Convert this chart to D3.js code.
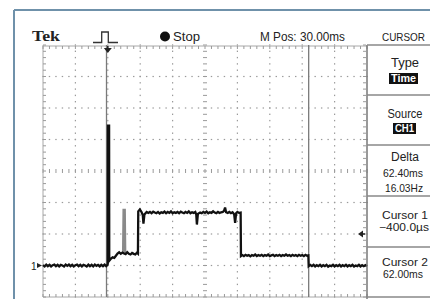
<!DOCTYPE html>
<html><head><meta charset="utf-8">
<script src="https://cdn.jsdelivr.net/npm/d3@7"></script>
<style>
html,body{margin:0;padding:0;background:#fff;}
svg{display:block;}
text{font-family:'Liberation Sans Narrow','Liberation Sans',Arial,sans-serif;fill:#222;}
</style></head>
<body>
<script>
// ---- data (time in ms, amplitude in divisions above CH1 ground) ----
const preTrigger = [[-20,0.01],[-19.5,-0.03],[-19,0.03],[-18.5,-0.02],[-18,0.02],[-17.5,-0.03],[-17,0.01],[-16.5,0.03],[-16,-0.02],[-15.5,0.02],[-15,-0.03],[-14.5,0.02],[-14,0.0],[-13.5,-0.03],[-13,0.03],[-12.5,-0.01],[-12,0.03],[-11.5,-0.02],[-11,0.02],[-10.5,-0.03],[-10,0.01],[-9.5,0.03],[-9,-0.02],[-8.5,0.02],[-8,-0.03],[-7.5,0.02],[-7,0.0],[-6.5,-0.03],[-6,0.03],[-5.5,-0.02],[-5,0.02],[-4.5,-0.03],[-4,0.03],[-3.5,-0.01],[-3,0.02],[-2.5,-0.03],[-2,0.02],[-1.5,-0.02],[-1,0.03],[-0.5,-0.02],[-0.1,0.02]];
const triggerSpike = [[0,0.05],[0.05,4.44],[0.4,4.44],[0.45,0.15]];
const lowStep = [[1,0.22],[1.5,0.26],[2,0.24],[2.5,0.31],[3,0.38],[3.5,0.42],[4,0.37],[4.5,0.41],[5,0.38],[5.5,0.36],[6,0.42],[6.5,0.37],[7,0.35],[7.5,0.4],[8,0.37],[8.5,0.35],[9,0.41],[9.3,0.38]];
const highPulse = [[9.4,1.72],[9.9,1.78],[10.4,1.7],[10.8,1.6],[11.0,1.33],[11.3,1.62],[12,1.7],[12.5,1.67],[13,1.7],[13.5,1.66],[14,1.71],[14.5,1.68],[15,1.66],[15.5,1.7],[16,1.65],[16.5,1.69],[17,1.67],[17.5,1.71],[18,1.66],[18.5,1.7],[19,1.67],[19.5,1.72],[20,1.66],[20.5,1.69],[21,1.67],[21.5,1.7],[22,1.66],[22.5,1.71],[23,1.68],[23.5,1.66],[24,1.7],[24.5,1.67],[25,1.72],[25.5,1.66],[26,1.69],[26.5,1.67],[27,1.7],[27.3,1.62],[27.5,1.3],[27.8,1.64],[28.5,1.68],[29,1.66],[29.5,1.7],[30,1.67],[30.5,1.71],[31,1.66],[31.5,1.69],[32,1.67],[32.5,1.72],[33,1.68],[33.5,1.66],[34,1.7],[34.5,1.67],[35,1.69],[35.5,1.7],[35.9,1.74],[36.2,1.84],[36.5,1.69],[37,1.67],[37.5,1.7],[38,1.66],[38.5,1.69],[39.0,1.63],[39.3,1.35],[39.6,1.66],[40,1.7],[40.5,1.67],[41,1.68]];
const midStep = [[41.1,0.3],[41.5,0.33],[42,0.3],[42.5,0.34],[43,0.31],[43.5,0.33],[44,0.29],[44.5,0.33],[45,0.31],[45.5,0.35],[46,0.3],[46.5,0.33],[47,0.31],[47.5,0.34],[48,0.3],[48.5,0.33],[49,0.31],[49.5,0.35],[50,0.3],[50.5,0.32],[51,0.34],[51.5,0.3],[52,0.33],[52.5,0.31],[53,0.34],[53.5,0.3],[54,0.33],[54.5,0.31],[55,0.35],[55.5,0.31],[56,0.33],[56.5,0.3],[57,0.34],[57.5,0.31],[58,0.33],[58.5,0.3],[59,0.34],[59.5,0.31],[60,0.33],[60.5,0.3],[61,0.34],[61.5,0.31],[61.9,0.32]];
const postPulse = [[62.0,-0.02],[62.5,0.02],[63,-0.02],[63.5,0.02],[64,-0.03],[64.5,0.01],[65,-0.02],[65.5,0.02],[66,-0.03],[66.5,0.01],[67,-0.02],[67.5,0.02],[68,-0.04],[68.5,0.0],[69,-0.02],[69.5,0.02],[70,-0.03],[70.5,0.01],[71,-0.02],[71.5,0.02],[72,-0.03],[72.5,0.01],[73,-0.02],[73.5,0.02],[74,-0.03],[74.5,0.01],[75,-0.02],[75.5,0.02],[76,-0.03],[76.5,0.0],[77,-0.02],[77.5,0.02],[78,-0.03],[78.5,0.01],[79,-0.02],[79.5,0.01],[80,-0.02]];
const glitch = [[4.6,0.4],[4.75,1.78],[5.35,1.78],[5.5,0.4]];
const cursorTimes = [-0.4, 62.0];
const triggerLevel = 1.0;
const headerTexts = ["Tek","Stop","M Pos: 30.00ms","CURSOR"];
const menuTitles = ["Type","Source","Delta","Cursor 1","Cursor 2"];
const menuValues = [["Time"],["CH1"],["62.40ms","16.03Hz"],["\u2212400.0\u00b5s"],["62.00ms"]];

// ---- layout ----
const W=430,H=299;
const svg=d3.select("body").append("svg").attr("width",W).attr("height",H);
const x=d3.scaleLinear().domain([-20,80]).range([43,367]);
const y=d3.scaleLinear().domain([-1,7]).range([297,45]);

// outer frame
svg.append("line").attr("x1",14).attr("x2",W).attr("y1",10).attr("y2",10).attr("stroke","#6f91aa").attr("stroke-width",2);
svg.append("line").attr("x1",14).attr("x2",14).attr("y1",10).attr("y2",H).attr("stroke","#6f91aa").attr("stroke-width",2);

const g=svg.append("g");
const gridCol="#9a9a9a";
const majT=d3.range(-10,80,10), majV=d3.range(0,7,1);
const minT=d3.range(-20,80.01,2), minV=d3.range(-1,7.01,0.2);
// dotted grid
majT.forEach(t=>{ if(t===30) return; minV.forEach(v=>{ g.append("rect").attr("x",x(t)-0.6).attr("y",y(v)-0.7).attr("width",1.2).attr("height",1.4).attr("fill",gridCol);});});
majV.forEach(v=>{ if(v===3) return; minT.forEach(t=>{ g.append("rect").attr("x",x(t)-0.7).attr("y",y(v)-0.6).attr("width",1.4).attr("height",1.2).attr("fill",gridCol);});});
// centre lines with ticks
minV.forEach(v=>{ g.append("line").attr("x1",x(30)-2).attr("x2",x(30)+2).attr("y1",y(v)).attr("y2",y(v)).attr("stroke",gridCol).attr("stroke-width",1);});
minT.forEach(t=>{ g.append("line").attr("x1",x(t)).attr("x2",x(t)).attr("y1",y(3)-2).attr("y2",y(3)+2).attr("stroke",gridCol).attr("stroke-width",1);});
// edge rulers
const edge="#a8a8a8";
g.append("line").attr("x1",x(-20)).attr("x2",x(80)).attr("y1",y(7)+1).attr("y2",y(7)+1).attr("stroke",edge);
g.append("line").attr("x1",x(-20)).attr("x2",x(80)).attr("y1",y(-1)).attr("y2",y(-1)).attr("stroke",edge);
g.append("line").attr("x1",x(-20)).attr("x2",x(-20)).attr("y1",y(7)).attr("y2",y(-1)).attr("stroke",edge);
minT.forEach(t=>{
  g.append("line").attr("x1",x(t)).attr("x2",x(t)).attr("y1",y(7)+1).attr("y2",y(7)+4).attr("stroke",gridCol);
  g.append("line").attr("x1",x(t)).attr("x2",x(t)).attr("y1",y(-1)).attr("y2",y(-1)-3).attr("stroke",gridCol);
});
minV.forEach(v=>{
  g.append("line").attr("x1",x(-20)).attr("x2",x(-20)+3).attr("y1",y(v)).attr("y2",y(v)).attr("stroke",gridCol);
  g.append("line").attr("x1",x(80)-4).attr("x2",x(80)-1).attr("y1",y(v)).attr("y2",y(v)).attr("stroke",gridCol);
});

// cursors
cursorTimes.forEach(t=>{ g.append("line").attr("x1",x(t)).attr("x2",x(t)).attr("y1",y(7)).attr("y2",y(-1)).attr("stroke","#7a7a7a").attr("stroke-width",1.3);});

// trace
const line=d3.line().x(d=>x(d[0])).y(d=>y(d[1]));
const trace=[].concat(preTrigger,triggerSpike,lowStep,highPulse,midStep,postPulse);
g.append("path").datum(glitch).attr("d",line).attr("fill","#8a8a8a").attr("stroke","#8a8a8a").attr("stroke-width",1.5);
g.append("path").datum(trace).attr("d",line).attr("fill","none").attr("stroke","#111").attr("stroke-width",2.3).attr("stroke-linejoin","miter");

// ground marker
svg.append("text").attr("x",31).attr("y",y(0)+4).attr("font-size",10).text("1");
svg.append("path").attr("d",`M37,${y(0)-2.5}L42,${y(0)}L37,${y(0)+2.5}Z`).attr("fill","#222");
// trigger level marker
svg.append("path").attr("d",`M${x(80)-9},${y(triggerLevel)}L${x(80)-4},${y(triggerLevel)-3.5}L${x(80)-4},${y(triggerLevel)+3.5}Z`).attr("fill","#222");
svg.append("line").attr("x1",x(80)-5).attr("x2",x(80)-2).attr("y1",y(triggerLevel)).attr("y2",y(triggerLevel)).attr("stroke","#222").attr("stroke-width",1.5);
// trigger position marker
svg.append("path").attr("d",`M${x(0)-4},${y(7)+3}L${x(0)+4},${y(7)+3}L${x(0)},${y(7)+8}Z`).attr("fill","#222");
svg.append("line").attr("x1",x(0)).attr("x2",x(0)).attr("y1",y(7)+1).attr("y2",y(7)+5).attr("stroke","#222").attr("stroke-width",1.5);
// pulse icon
svg.append("path").attr("d","M93,42.5H101.7V32H108.3V42.5H118").attr("fill","none").attr("stroke","#333").attr("stroke-width",1.3);

// header
svg.append("text").attr("x",32).attr("y",41).attr("font-size",15).attr("font-weight","bold").style("font-family","'Liberation Serif','Times New Roman',serif")
  .attr("textLength",28).attr("lengthAdjust","spacingAndGlyphs").text(headerTexts[0]);
svg.append("circle").attr("cx",165).attr("cy",36.5).attr("r",5).attr("fill","#111");
svg.append("text").attr("x",173).attr("y",41).attr("font-size",12).attr("textLength",27).attr("lengthAdjust","spacingAndGlyphs").text(headerTexts[1]);
svg.append("text").attr("x",260).attr("y",41).attr("font-size",12).attr("textLength",85).attr("lengthAdjust","spacingAndGlyphs").text(headerTexts[2]);
svg.append("text").attr("x",382).attr("y",41).attr("font-size",10.5).attr("textLength",43).attr("lengthAdjust","spacingAndGlyphs").text(headerTexts[3]);

// menu panel
const px=367, boxTops=[45,95,145,196,247,297];
svg.append("line").attr("x1",px).attr("x2",px).attr("y1",45).attr("y2",H).attr("stroke","#777").attr("stroke-width",1.5);
boxTops.forEach(b=>svg.append("line").attr("x1",px).attr("x2",W).attr("y1",b).attr("y2",b).attr("stroke","#888").attr("stroke-width",1.5));
const titleY=[67,118,161,219,266];
const titleW=[28,35,28,46,46];
const cx=405;
menuTitles.forEach((s,i)=>{
  svg.append("text").attr("x",cx-titleW[i]/2).attr("y",titleY[i]).attr("font-size",i>=3?10.5:12).attr("textLength",titleW[i]).attr("lengthAdjust","spacingAndGlyphs").text(s);
});
// inverted values
const inv=[{x:389,y:73,w:29,h:11,tx:391,tw:25,ty:82},{x:393,y:123,w:23,h:11,tx:395,tw:19,ty:132}];
inv.forEach((b,i)=>{
  svg.append("rect").attr("x",b.x).attr("y",b.y).attr("width",b.w).attr("height",b.h).attr("fill","#111");
  svg.append("text").attr("x",b.tx).attr("y",b.ty).attr("font-size",11).attr("font-weight","bold").style("fill","#fff").attr("textLength",b.tw).attr("lengthAdjust","spacingAndGlyphs").text(menuValues[i][0]);
});
const vals=[{s:menuValues[2][0],x:383,w:40,y:177,f:11.5},{s:menuValues[2][1],x:385,w:38,y:192,f:11.5},{s:menuValues[3][0],x:379,w:50,y:230.5,f:10.5},{s:menuValues[4][0],x:383,w:40,y:277.5,f:10.5}];
vals.forEach(v=>svg.append("text").attr("x",v.x).attr("y",v.y).attr("font-size",v.f).attr("textLength",v.w).attr("lengthAdjust","spacingAndGlyphs").text(v.s));
</script>
</body></html>
